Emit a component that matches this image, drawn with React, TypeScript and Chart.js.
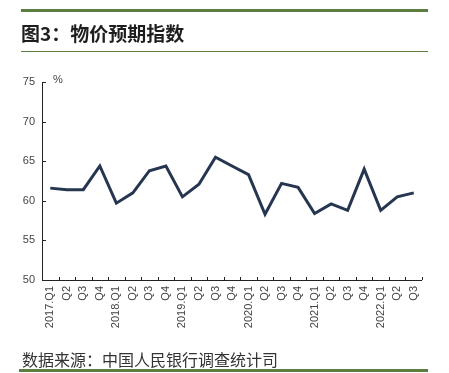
import React, { useEffect, useRef } from "react";
import { Chart, registerables } from "chart.js";

Chart.register(...registerables);

const quarters: string[] = [
  "2017.Q1", "Q2", "Q3", "Q4",
  "2018.Q1", "Q2", "Q3", "Q4",
  "2019.Q1", "Q2", "Q3", "Q4",
  "2020.Q1", "Q2", "Q3", "Q4",
  "2021.Q1", "Q2", "Q3", "Q4",
  "2022.Q1", "Q2", "Q3",
];

const priceExpectation: number[] = [
  61.6, 61.4, 61.4, 64.4,
  59.7, 61.0, 63.8, 64.4,
  60.5, 62.1, 65.5, 64.4,
  63.3, 58.3, 62.2, 61.7,
  58.4, 59.6, 58.8, 64.0,
  58.8, 60.5, 61.0,
];

const yMin = 50;
const yMax = 75;
const yStep = 5;

const titleText = "图3：物价预期指数";
const sourceText = "数据来源：中国人民银行调查统计司";
const unitText = "%";

const GREEN = "#5b7d3f";
const LINE = "#263650";
const TICK_FONT = "'Liberation Sans Narrow', 'Liberation Sans', Arial, sans-serif";

const innerTicks = {
  id: "innerTicks",
  afterDraw(chart: any) {
    const ctx = chart.ctx;
    const x = chart.scales.x;
    const y = chart.scales.y;
    const area = chart.chartArea;
    ctx.save();
    ctx.strokeStyle = "#222";
    ctx.lineWidth = 1;
    // axes
    ctx.beginPath();
    ctx.moveTo(Math.round(area.left) + 0.5, area.top);
    ctx.lineTo(Math.round(area.left) + 0.5, Math.round(area.bottom) + 0.5);
    ctx.lineTo(area.right, Math.round(area.bottom) + 0.5);
    ctx.stroke();
    // x inner ticks at category boundaries
    ctx.beginPath();
    for (let i = 1; i <= quarters.length; i++) {
      const px = Math.round(x.getPixelForValue(i - 0.5)) + 0.5;
      ctx.moveTo(px, Math.round(area.bottom));
      ctx.lineTo(px, Math.round(area.bottom) - 3);
    }
    // y inner ticks
    for (let v = yMin; v <= yMax; v += yStep) {
      const py = Math.round(y.getPixelForValue(v)) + 0.5;
      ctx.moveTo(Math.round(area.left), py);
      ctx.lineTo(Math.round(area.left) + 4, py);
    }
    ctx.stroke();
    // unit label
    ctx.fillStyle = "#444";
    ctx.font = "11px " + TICK_FONT;
    ctx.textAlign = "left";
    ctx.textBaseline = "middle";
    ctx.fillText(unitText, area.left + 11, area.top - 2);
    ctx.restore();
  },
};

export default function App() {
  const ref = useRef<HTMLCanvasElement | null>(null);

  useEffect(() => {
    if (!ref.current) return;
    const chart = new Chart(ref.current, {
      type: "line",
      data: {
        labels: quarters,
        datasets: [
          {
            data: priceExpectation,
            borderColor: LINE,
            borderWidth: 3,
            pointRadius: 0,
            tension: 0,
            fill: false,
          },
        ],
      },
      options: {
        animation: false,
        responsive: false,
        maintainAspectRatio: false,
        layout: { padding: { left: 0, right: 27, top: 82, bottom: 43 } },
        plugins: {
          legend: { display: false },
          tooltip: { enabled: false },
          title: { display: false },
        },
        scales: {
          x: {
            type: "category",
            offset: true,
            grid: { display: false, drawTicks: false },
            border: { display: false },
            ticks: {
              autoSkip: false,
              minRotation: 90,
              maxRotation: 90,
              padding: 6,
              color: "#444",
              font: { size: 11, family: TICK_FONT },
            },
            afterFit(scale: any) {
              scale.height = 50;
            },
          },
          y: {
            min: yMin,
            max: yMax,
            grid: { display: false, drawTicks: false },
            border: { display: false },
            ticks: {
              stepSize: yStep,
              padding: 7,
              color: "#444",
              font: { size: 11, family: TICK_FONT },
            },
            afterFit(scale: any) {
              scale.width = 42;
            },
          },
        },
      },
      plugins: [innerTicks],
    });
    return () => chart.destroy();
  }, []);

  return (
    <div style={{ position: "fixed", left: 0, top: 0, width: 449, height: 373, background: "#fff", overflow: "hidden" }}>
      <canvas ref={ref} width={449} height={373} style={{ position: "absolute", left: 0, top: 0, width: 449, height: 373 }} />
      <div style={{ position: "absolute", left: 21, top: 9, width: 407, height: 3, background: GREEN }} />
      <div
        style={{
          position: "absolute",
          left: 21,
          top: 21,
          fontFamily: "'Noto Sans CJK SC', sans-serif",
          fontWeight: 700,
          fontSize: 19,
          lineHeight: "24px",
          color: "#1e1e1e",
          whiteSpace: "nowrap",
        }}
      >
        {titleText}
      </div>
      <div style={{ position: "absolute", left: 21, top: 51, width: 407, height: 1, background: GREEN }} />
      <div
        style={{
          position: "absolute",
          left: 22,
          top: 349,
          fontFamily: "'Noto Sans CJK SC', sans-serif",
          fontWeight: 400,
          fontSize: 16,
          lineHeight: "20px",
          color: "#333",
          whiteSpace: "nowrap",
        }}
      >
        {sourceText}
      </div>
      <div style={{ position: "absolute", left: 19, top: 369, width: 409, height: 3, background: GREEN }} />
    </div>
  );
}
